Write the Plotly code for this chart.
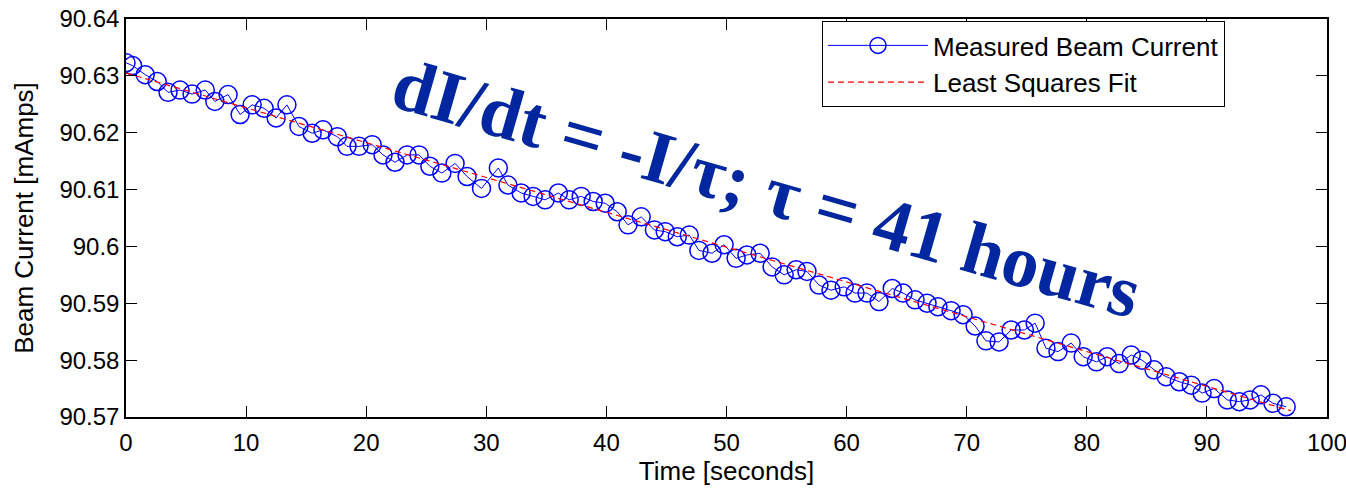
import plotly.graph_objects as go

# Measured beam current
time_s = [0.0, 0.55, 1.6, 2.6, 3.5, 4.5, 5.5, 6.6, 7.4, 8.5, 9.5, 10.5, 11.5, 12.5, 13.4,
          14.4, 15.5, 16.4, 17.6, 18.4, 19.4, 20.5, 21.4, 22.4, 23.4, 24.4, 25.3, 26.3,
          27.4, 28.4, 29.6, 31.0, 31.8, 32.9, 33.9, 34.9, 36.0, 36.9, 37.9, 38.9, 39.9,
          40.9, 41.8, 42.9, 44.0, 44.9, 45.9, 46.9, 47.7, 48.8, 49.8, 50.8, 51.7, 52.8,
          53.8, 54.8, 55.8, 56.7, 57.7, 58.7, 59.8, 60.7, 61.7, 62.7, 63.8, 64.7, 65.7,
          66.7, 67.6, 68.7, 69.7, 70.7, 71.6, 72.7, 73.7, 74.8, 75.7, 76.6, 77.6, 78.7,
          79.7, 80.8, 81.7, 82.7, 83.7, 84.6, 85.6, 86.6, 87.7, 88.7, 89.6, 90.6, 91.7,
          92.7, 93.6, 94.5, 95.5, 96.6]
current = [90.6323, 90.6318, 90.6302, 90.6290, 90.6271, 90.6275, 90.6268, 90.6275, 90.6255,
           90.6267, 90.6232, 90.6249, 90.6243, 90.6226, 90.6249, 90.6211, 90.6199, 90.6205,
           90.6193, 90.6176, 90.6176, 90.6179, 90.6161, 90.6148, 90.6161, 90.6161, 90.6141,
           90.6129, 90.6146, 90.6123, 90.6102, 90.6138, 90.6108, 90.6094, 90.6088, 90.6082,
           90.6094, 90.6082, 90.6088, 90.6079, 90.6076, 90.6061, 90.6038, 90.6052, 90.6029,
           90.6026, 90.6017, 90.6020, 90.5993, 90.5988, 90.6003, 90.5979, 90.5985, 90.5988,
           90.5964, 90.5950, 90.5959, 90.5956, 90.5932, 90.5923, 90.5929, 90.5918, 90.5918,
           90.5903, 90.5926, 90.5918, 90.5906, 90.5900, 90.5894, 90.5887, 90.5880, 90.5860,
           90.5834, 90.5832, 90.5853, 90.5853, 90.5865, 90.5821, 90.5815, 90.5830, 90.5806,
           90.5797, 90.5806, 90.5794, 90.5809, 90.5800, 90.5783, 90.5771, 90.5762, 90.5756,
           90.5742, 90.5750, 90.5730, 90.5727, 90.5730, 90.5739, 90.5724, 90.5718]

# Least squares fit (end points)
fit_t = [0.0, 97.0]
fit_y = [90.6305, 90.5711]

x_ticks = [0, 10, 20, 30, 40, 50, 60, 70, 80, 90, 100]
y_ticks = [90.57, 90.58, 90.59, 90.60, 90.61, 90.62, 90.63, 90.64]
y_ticktext = ["90.57", "90.58", "90.59", "90.6", "90.61", "90.62", "90.63", "90.64"]

annotation_text = "<b>dI/dt = -I/τ; τ = 41 hours</b>"

fig = go.Figure()
fig.add_trace(go.Scatter(
    x=time_s, y=current, mode="lines+markers", name="Measured Beam Current",
    line=dict(color="rgb(0,0,255)", width=1),
    marker=dict(symbol="circle-open", size=18, color="rgb(0,0,255)",
                line=dict(width=1.5, color="rgb(0,0,255)")),
))
fig.add_trace(go.Scatter(
    x=fit_t, y=fit_y, mode="lines", name="Least Squares Fit",
    line=dict(color="rgb(255,0,0)", width=1.2, dash="6px,4px"),
))

axis_common = dict(showgrid=False, zeroline=False, showline=True, linecolor="black",
                   linewidth=1.5, mirror="ticks", ticks="inside", ticklen=11,
                   tickcolor="black", tickwidth=1.2, ticklabeloverflow="allow",
                   automargin=False,
                   tickfont=dict(family="Liberation Sans", size=24, color="black"))

fig.update_xaxes(range=[0, 100], tickvals=x_ticks, ticklabelstandoff=3, **axis_common,
                 title=dict(text="Time [seconds]",
                            font=dict(family="Liberation Sans", size=26, color="black"),
                            standoff=6))
fig.update_yaxes(range=[90.57, 90.64], tickvals=y_ticks, ticktext=y_ticktext, **axis_common,
                 title=dict(text="Beam Current [mAmps]",
                            font=dict(family="Liberation Sans", size=26, color="black"),
                            standoff=18))

fig.add_annotation(x=53.3, y=90.6102, xref="x", yref="y", text=annotation_text,
                   showarrow=False, textangle=16,
                   font=dict(family="Liberation Serif", size=74, color="#00279F"))

fig.update_layout(
    width=1346, height=491,
    margin=dict(l=126, r=19, t=19, b=74),
    paper_bgcolor="white", plot_bgcolor="white",
    legend=dict(x=0.5795, y=0.995, xanchor="left", yanchor="top",
                bordercolor="black", borderwidth=1, bgcolor="white",
                font=dict(family="Liberation Sans", size=26, color="black"),
                itemwidth=100, tracegroupgap=0),
    showlegend=True,
)

fig.write_html("out.html")
